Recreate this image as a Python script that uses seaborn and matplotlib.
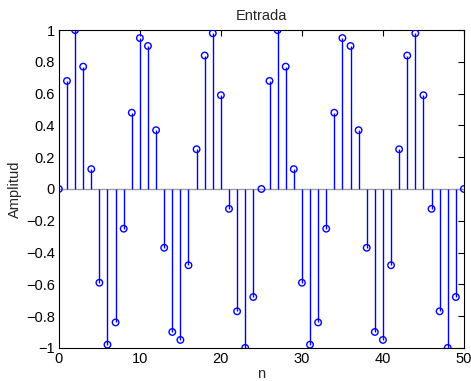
import numpy as np
import pandas as pd
import matplotlib
matplotlib.use("Agg")
import matplotlib.pyplot as plt
import seaborn as sns

n = list(range(51))
amplitud = [0.0, 0.68, 1.0, 0.77, 0.125, -0.59, -0.98, -0.84, -0.25, 0.48,
            0.95, 0.90, 0.37, -0.37, -0.90, -0.95, -0.48, 0.25, 0.84, 0.98,
            0.59, -0.125, -0.77, -1.0, -0.68,
            0.0, 0.68, 1.0, 0.77, 0.125, -0.59, -0.98, -0.84, -0.25, 0.48,
            0.95, 0.90, 0.37, -0.37, -0.90, -0.95, -0.48, 0.25, 0.84, 0.98,
            0.59, -0.125, -0.77, -1.0, -0.68, 0.0]
xticks = [0, 10, 20, 30, 40, 50]
yticks = [-1, -0.8, -0.6, -0.4, -0.2, 0, 0.2, 0.4, 0.6, 0.8, 1]
title = "Entrada"
xlabel = "n"
ylabel = "Amplitud"

df = pd.DataFrame({"n": n, "Amplitud": amplitud})

sns.set_style("white")
plt.rcParams['font.family'] = ['Liberation Sans', 'DejaVu Sans']
plt.rcParams['font.size'] = 10.5

fig = plt.figure(figsize=(4.71, 3.81), dpi=100)
ax = fig.add_axes([0.125, 0.087, 0.860, 0.834])

ax.axhline(0, color="#a0a0a0", lw=1.0, zorder=1)
ax.vlines(df["n"], 0, df["Amplitud"], color="#0000ff", lw=1.0, zorder=2)
sns.scatterplot(data=df, x="n", y="Amplitud", ax=ax, marker="o", s=22,
                facecolor="none", edgecolor="#0000ff", linewidth=1.0, zorder=3)

ax.set_xlim(0, 50)
ax.set_ylim(-1, 1)
ax.set_xticks(xticks)
ax.set_yticks(yticks)
ax.set_yticklabels([f"{t:g}".replace("-", "\u2212") for t in yticks])
ax.tick_params(direction="in", length=4, width=0.8, top=True, right=True,
               labelsize=10.5, colors="black", pad=3)
for s in ax.spines.values():
    s.set_visible(True)
    s.set_color("black")
    s.set_linewidth(0.8)
ax.set_title(title, fontsize=10.5, pad=7)
ax.set_xlabel(xlabel, fontsize=10.5, labelpad=1)
ax.set_ylabel(ylabel, fontsize=10.5, labelpad=3)

fig.savefig("out.png", dpi=100, facecolor="white")
